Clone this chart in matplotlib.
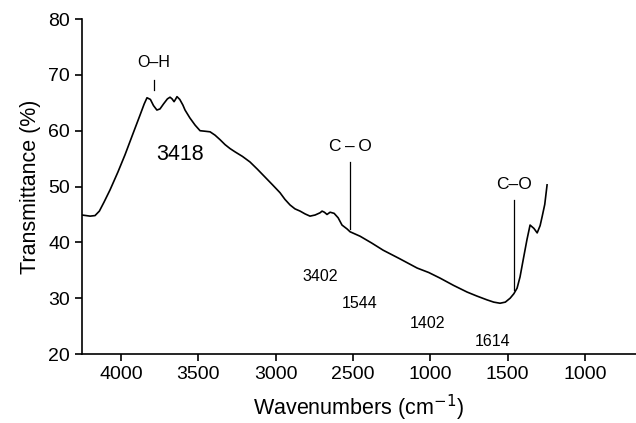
import matplotlib
matplotlib.use("Agg")
from matplotlib import pyplot as plt
import numpy as np

plt.rcParams['font.family'] = ['Liberation Sans', 'DejaVu Sans']

# traced FTIR spectrum (wavenumber, transmittance %)
wn = [4252, 4200, 4168, 4140, 4110, 4071, 4020, 3974, 3925, 3877, 3850, 3832,
      3810, 3790, 3768, 3748, 3725, 3700, 3683, 3670, 3657, 3648, 3638, 3620,
      3600, 3586, 3555, 3521, 3489, 3455, 3424, 3392, 3360, 3327, 3295, 3262,
      3215, 3166, 3118, 3069, 3020, 2972, 2940, 2907, 2875, 2842, 2810, 2778,
      2745, 2713, 2700, 2685, 2668, 2648, 2622, 2596, 2571, 2538, 2519, 2454,
      2380, 2305, 2200, 2085, 2010, 1937, 1850, 1762, 1700, 1633, 1590, 1549,
      1515, 1484, 1460, 1439, 1420, 1400, 1375, 1355, 1330, 1309, 1290, 1277,
      1260, 1245]
trans = [44.9, 44.7, 44.8, 45.6, 47.2, 49.4, 52.6, 55.7, 59.3, 62.8, 64.8, 65.9,
         65.6, 64.5, 63.7, 63.9, 64.8, 65.7, 66.0, 65.7, 65.2, 65.6, 66.1, 65.6,
         64.6, 63.7, 62.3, 61.0, 60.0, 59.9, 59.8, 59.2, 58.4, 57.5, 56.8, 56.2,
         55.4, 54.4, 53.1, 51.7, 50.3, 48.9, 47.7, 46.7, 46.0, 45.6, 45.1, 44.7,
         44.9, 45.3, 45.6, 45.4, 45.0, 45.4, 45.2, 44.4, 43.1, 42.4, 41.9, 41.1,
         39.9, 38.6, 37.1, 35.4, 34.6, 33.6, 32.3, 31.1, 30.4, 29.7, 29.3, 29.1,
         29.3, 30.0, 30.8, 31.8, 33.8, 36.8, 40.5, 43.1, 42.5, 41.7, 43.0, 44.6,
         46.8, 50.3]

xticks = [4000, 3500, 3000, 2500, 2000, 1500, 1000]
xticklabels = ["4000", "3500", "3000", "2500", "1000", "1500", "1000"]
yticks = [20, 30, 40, 50, 60, 70, 80]

# band markers: (x, y_bottom, y_top, label, label_y, size)
bands = [(3787, 67.3, 69.1, "O\u2013H", 70.9, 11.5),
         (2519, 42.4, 54.4, "C\u2009\u2013\u2009O", 55.8, 12.5),
         (1458, 31.5, 47.6, "C\u2013O", 49.0, 12.5)]
# peak numbers: (x, y, text, size)
peaks = [(3618, 55.7, "3418", 15.5),
         (2713, 33.8, "3402", 11.5),
         (2454, 29.1, "1544", 11.5),
         (2021, 25.4, "1402", 11.5),
         (1600, 22.2, "1614", 11.5)]

fig = plt.figure(figsize=(6.36, 4.23), dpi=100)
ax = fig.add_axes([0.129, 0.163, 0.871, 0.792])

ax.plot(wn, trans, color='black', lw=1.2)

for x, y0, y1, lab, ly, s in bands:
    ax.plot([x, x], [y0, y1], color='black', lw=0.9)
    ax.text(x, ly, lab, ha='center', va='bottom', fontsize=s)

for x, y, t, s in peaks:
    ax.text(x, y, t, ha='center', va='center', fontsize=s)

ax.set_xlim(4252, 670)
ax.set_ylim(20, 80)
ax.set_xticks(xticks)
ax.set_xticklabels(xticklabels)
ax.set_yticks(yticks)
ax.tick_params(labelsize=14, length=5, width=1.2, direction='out')
ax.spines['top'].set_visible(False)
ax.spines['right'].set_visible(False)
ax.spines['left'].set_linewidth(1.2)
ax.spines['bottom'].set_linewidth(1.2)

ax.set_xlabel("Wavenumbers (cm$^{-1}$)", fontsize=15.5, labelpad=7)
ax.set_ylabel("Transmittance (%)", fontsize=15.5, labelpad=5)

fig.savefig("out.png", dpi=100)
